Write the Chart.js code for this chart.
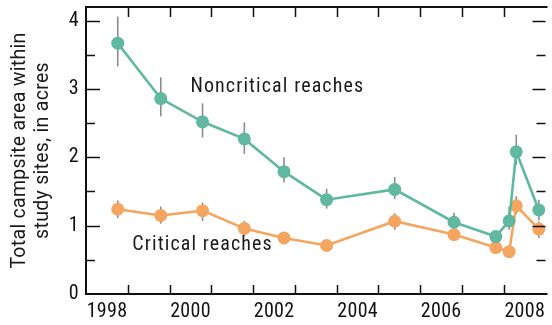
<!DOCTYPE html>
<html>
<head>
<meta charset="utf-8">
<script src="https://cdn.jsdelivr.net/npm/chart.js@4/dist/chart.umd.min.js"></script>
<style>
  html, body { margin: 0; padding: 0; background: #fff; }
  #wrap { width: 552px; height: 325px; }
</style>
</head>
<body>
<div id="wrap"><canvas id="c" width="552" height="325"></canvas></div>
<script>
// Survey dates (decimal years)
const surveyDates = [1998.76, 1999.79, 2000.79, 2001.79, 2002.74, 2003.76, 2005.39, 2006.81, 2007.81, 2008.13, 2008.30, 2008.84];

// Noncritical reaches: total campsite area (acres) with uncertainty range
const noncritical     = [3.67, 2.86, 2.52, 2.27, 1.79, 1.38, 1.53, 1.05, 0.84, 1.07, 2.08, 1.23];
const noncriticalLow  = [3.33, 2.60, 2.29, 2.05, 1.63, 1.25, 1.39, 0.91, 0.79, 0.94, 1.89, 1.08];
const noncriticalHigh = [4.06, 3.17, 2.79, 2.51, 2.00, 1.54, 1.71, 1.19, 0.89, 1.28, 2.33, 1.38];

// Critical reaches
const critical     = [1.24, 1.15, 1.22, 0.96, 0.82, 0.71, 1.065, 0.87, 0.68, 0.62, 1.29, 0.95];
const criticalLow  = [1.11, 1.03, 1.07, 0.85, 0.76, 0.67, 0.94, 0.78, 0.64, 0.58, 1.17, 0.82];
const criticalHigh = [1.37, 1.28, 1.34, 1.07, 0.88, 0.75, 1.18, 0.97, 0.72, 0.66, 1.43, 1.06];

// Axis ticks
const yearTicks = [1998, 1999, 2000, 2001, 2002, 2003, 2004, 2005, 2006, 2007, 2008, 2009];
const yearLabels = ['1998', '', '2000', '', '2002', '', '2004', '', '2006', '', '2008', ''];
const areaTicks = [0, 0.5, 1, 1.5, 2, 2.5, 3, 3.5, 4];
const areaLabels = ['0', '', '1', '', '2', '', '3', '', '4'];

// Series labels placed in data space
const seriesLabels = [
  { text: 'Noncritical reaches', x: 2000.5, y: 3.03 },
  { text: 'Critical reaches', x: 1999.11, y: 0.72 }
];

const TEAL = '#5fb89f';
const ORANGE = '#f4a661';
const CONDENSED = '"Roboto Condensed", "DejaVu Sans Condensed", sans-serif';

const pts = (xs, ys) => xs.map((x, i) => ({ x: x, y: ys[i] }));

// Vertical uncertainty bars behind the markers
const errorBars = {
  id: 'errorBars',
  beforeDatasetsDraw(chart) {
    const { ctx, scales: { x, y } } = chart;
    ctx.save();
    ctx.strokeStyle = '#8c8c8c';
    ctx.lineWidth = 1.6;
    [[noncriticalLow, noncriticalHigh], [criticalLow, criticalHigh]].forEach(([lo, hi]) => {
      surveyDates.forEach((d, i) => {
        const px = x.getPixelForValue(d);
        ctx.beginPath();
        ctx.moveTo(px, y.getPixelForValue(lo[i]));
        ctx.lineTo(px, y.getPixelForValue(hi[i]));
        ctx.stroke();
      });
    });
    ctx.restore();
  }
};

// Frame with inward-pointing tick marks on all sides
const frame = {
  id: 'frame',
  afterDraw(chart) {
    const { ctx, chartArea: a, scales: { x, y } } = chart;
    ctx.save();
    ctx.strokeStyle = '#111';
    ctx.lineWidth = 2;
    ctx.beginPath();
    ctx.moveTo(a.right + 2, a.top);
    ctx.lineTo(a.left, a.top);
    ctx.lineTo(a.left, a.bottom);
    ctx.lineTo(a.right + 2, a.bottom);
    ctx.stroke();
    ctx.lineWidth = 1.5;
    ctx.beginPath();
    yearTicks.forEach(v => {
      const px = Math.round(x.getPixelForValue(v)) + 0.5;
      if (px <= a.left + 2 || px >= a.right) return;
      ctx.moveTo(px, a.bottom); ctx.lineTo(px, a.bottom - 9);
      ctx.moveTo(px, a.top); ctx.lineTo(px, a.top + 10);
    });
    areaTicks.forEach(v => {
      if (v === 0) return;
      const py = Math.round(y.getPixelForValue(v)) + 0.5;
      const major = Number.isInteger(v);
      ctx.moveTo(a.left, py); ctx.lineTo(a.left + (major ? 14 : 9), py);
      ctx.moveTo(a.right, py); ctx.lineTo(a.right - (major ? 13 : 9), py);
    });
    ctx.stroke();
    ctx.restore();
  }
};

// Series names written inside the plot
const seriesText = {
  id: 'seriesText',
  afterDatasetsDraw(chart) {
    const { ctx, scales: { x, y } } = chart;
    ctx.save();
    ctx.fillStyle = '#1a1a1a';
    ctx.font = '20px ' + CONDENSED;
    ctx.letterSpacing = '1.1px';
    ctx.textAlign = 'left';
    ctx.textBaseline = 'middle';
    seriesLabels.forEach(l => ctx.fillText(l.text, x.getPixelForValue(l.x), y.getPixelForValue(l.y)));
    ctx.restore();
  }
};

const spacing = {
  id: 'spacing',
  beforeDraw(chart) { chart.ctx.letterSpacing = '0.3px'; }
};

new Chart(document.getElementById('c'), {
  type: 'line',
  data: {
    datasets: [
      {
        label: 'Noncritical reaches',
        data: pts(surveyDates, noncritical),
        borderColor: TEAL, backgroundColor: TEAL,
        borderWidth: 2.6, pointRadius: 6.5, pointHoverRadius: 6.5,
        pointBorderWidth: 0, tension: 0
      },
      {
        label: 'Critical reaches',
        data: pts(surveyDates, critical),
        borderColor: ORANGE, backgroundColor: ORANGE,
        borderWidth: 2.6, pointRadius: 6.5, pointHoverRadius: 6.5,
        pointBorderWidth: 0, tension: 0
      }
    ]
  },
  options: {
    responsive: false,
    animation: false,
    devicePixelRatio: 1,
    layout: { padding: { top: 7, right: 0, left: 0, bottom: 0 } },
    plugins: { legend: { display: false }, tooltip: { enabled: false } },
    scales: {
      x: {
        type: 'linear', min: 1998, max: 2009,
        afterBuildTicks: s => { s.ticks = yearTicks.map(v => ({ value: v })); },
        afterFit: s => { s.height = 31; s.paddingLeft = 0; s.paddingRight = 0; },
        grid: { display: false, drawTicks: false },
        border: { display: false },
        ticks: {
          autoSkip: false, maxRotation: 0, padding: 6, labelOffset: 21,
          color: '#111', font: { family: CONDENSED, size: 20 },
          callback: (v) => yearLabels[yearTicks.indexOf(v)] || ''
        }
      },
      y: {
        min: 0, max: 4.2,
        afterBuildTicks: s => { s.ticks = areaTicks.map(v => ({ value: v })); },
        afterFit: s => { s.width = 86; s.paddingTop = 0; s.paddingBottom = 0; },
        grid: { display: false, drawTicks: false },
        border: { display: false },
        ticks: {
          autoSkip: false, padding: 7,
          color: '#111', font: { family: CONDENSED, size: 20 },
          callback: (v) => areaLabels[areaTicks.indexOf(v)] || ''
        },
        title: {
          display: true,
          text: ['Total campsite area within', 'study sites, in acres'],
          color: '#1a1a1a',
          font: { family: 'Roboto, "Liberation Sans", sans-serif', size: 19.5, lineHeight: 1.17 },
          padding: { top: 9, bottom: 0 }
        }
      }
    }
  },
  plugins: [spacing, errorBars, frame, seriesText]
});
</script>
</body>
</html>
